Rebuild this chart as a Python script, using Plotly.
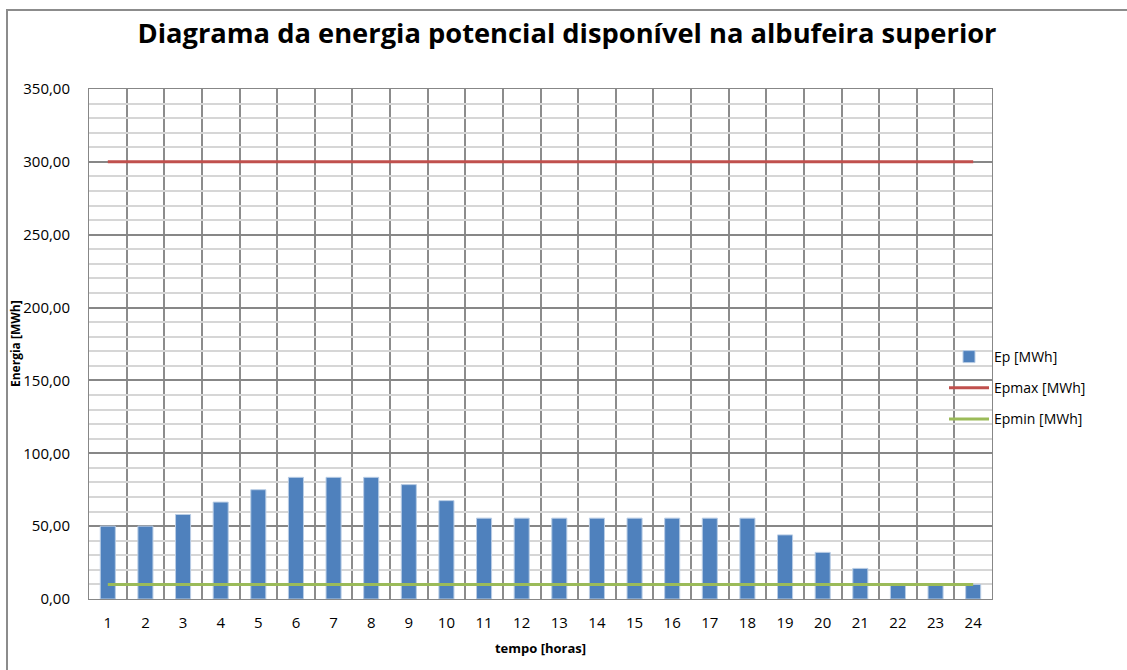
import plotly.graph_objects as go

hours = list(range(1, 25))
ep = [50, 50, 58, 66.5, 75, 83.5, 83.5, 83.5, 78.5, 67.5, 55.5, 55.5, 55.5, 55.5,
      55.5, 55.5, 55.5, 55.5, 44, 32, 21, 10, 10, 10]
epmax = [300] * 24
epmin = [10] * 24

W, H = 1127, 670
L, R, T, B = 89, 135, 89, 71
pw, ph = W - L - R, H - T - B

fig = go.Figure()
fig.add_trace(go.Bar(x=hours, y=ep, name="Ep [MWh]", width=0.4, legendgroup="a",
                     marker=dict(color="#4F81BD", line=dict(color="#B9CDE5", width=1))))
fig.add_trace(go.Scatter(x=hours, y=epmax, name="Epmax [MWh]", mode="lines", legendgroup="b",
                         line=dict(color="#C0504D", width=3)))
fig.add_trace(go.Scatter(x=hours, y=epmin, name="Epmin [MWh]", mode="lines", legendgroup="c",
                         line=dict(color="#9BBB59", width=3)))

font = "Open Sans, Liberation Sans, sans-serif"
fig.update_layout(
    width=W, height=H,
    margin=dict(l=L, r=R, t=T, b=B),
    paper_bgcolor="white", plot_bgcolor="white",
    separators=",.",
    font=dict(family=font, size=14, color="black"),
    title=dict(text="<b>Diagrama da energia potencial disponível na albufeira superior</b>",
               x=(567) / W, xanchor="center", y=1 - 33 / H, yanchor="middle",
               font=dict(family=font, size=27.3, color="black")),
    legend=dict(x=(944 - L) / pw, xanchor="left", y=(599 - 388) / ph, yanchor="middle",
                font=dict(family=font, size=14), bgcolor="rgba(0,0,0,0)",
                itemwidth=40, tracegroupgap=10),
    showlegend=True,
)
fig.update_xaxes(
    range=[0.5, 24.5], tickmode="array", tickvals=hours, ticktext=[str(h) for h in hours],
    showgrid=False, ticks="", showline=True, linecolor="#878787", linewidth=1,
    mirror=True, ticklabelstandoff=10,
    minor=dict(tickvals=[h + 0.5 for h in range(0, 25)], showgrid=True,
               gridcolor="#8C8C8C", gridwidth=1.5, ticks=""),
    title=dict(text="<b>tempo [horas]</b>", font=dict(family=font, size=13), standoff=12),
    tickfont=dict(family=font, size=15),
)
fig.update_yaxes(
    range=[0, 350], dtick=50, tickformat=".2f", showgrid=True, gridcolor="#878787",
    gridwidth=1.5, zeroline=False, showline=True, linecolor="#878787", linewidth=1,
    mirror=True, ticks="", ticklabelstandoff=15,
    minor=dict(dtick=10, showgrid=True, gridcolor="#D6D6D6", gridwidth=2, ticks=""),
    tickfont=dict(family=font, size=15),
)
fig.add_annotation(text="<b>Energia [MWh]</b>", xref="paper", yref="paper",
                   x=(15 - L) / pw, y=(599 - 344) / ph, textangle=-90, showarrow=False,
                   xanchor="center", yanchor="middle", font=dict(family=font, size=12))
fig.add_shape(type="rect", xref="paper", yref="paper",
              x0=(7 - L) / pw, x1=(W + 30 - L) / pw, y0=(599 - (H + 30)) / ph, y1=(599 - 10) / ph,
              line=dict(color="#8C8C8C", width=2), layer="below")
fig.write_html("out.html", post_script="document.body.style.margin='0';",
               config={"displayModeBar": False})
